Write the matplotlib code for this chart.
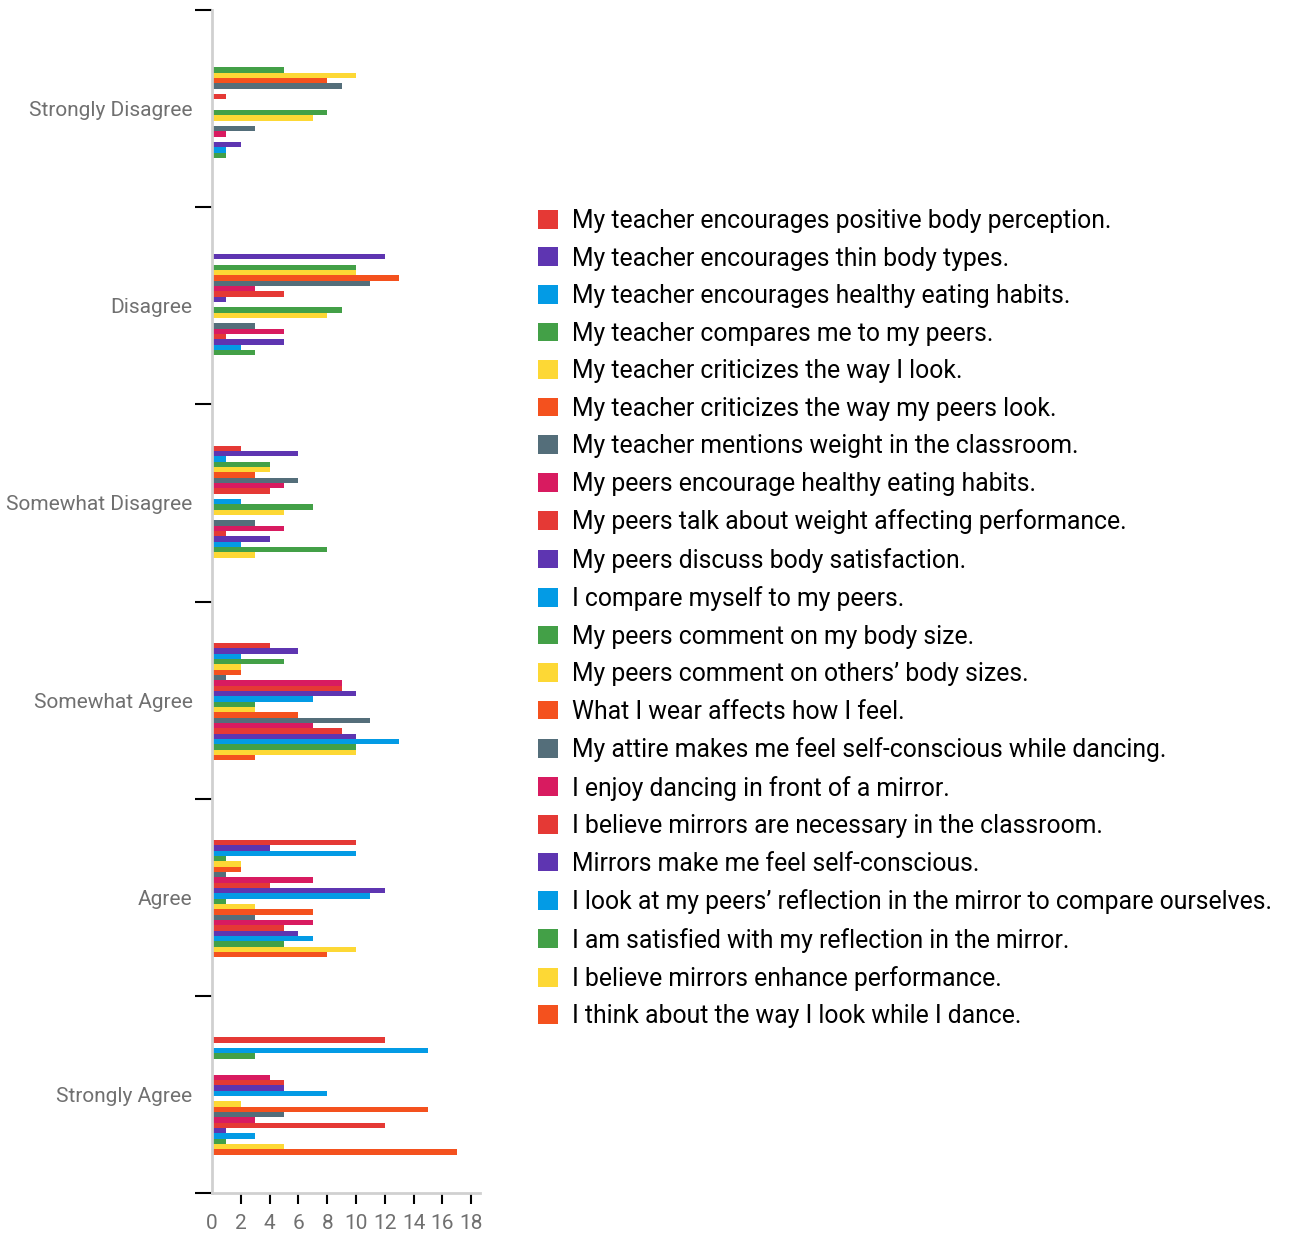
import matplotlib
matplotlib.use("Agg")
import matplotlib.pyplot as plt
from matplotlib.patches import Patch
import numpy as np

plt.rcParams['font.family'] = ['Roboto', 'DejaVu Sans']

categories = ["Strongly Disagree", "Disagree", "Somewhat Disagree",
              "Somewhat Agree", "Agree", "Strongly Agree"]

series_names = [
    "My teacher encourages positive body perception.",
    "My teacher encourages thin body types.",
    "My teacher encourages healthy eating habits.",
    "My teacher compares me to my peers.",
    "My teacher criticizes the way I look.",
    "My teacher criticizes the way my peers look.",
    "My teacher mentions weight in the classroom.",
    "My peers encourage healthy eating habits.",
    "My peers talk about weight affecting performance.",
    "My peers discuss body satisfaction.",
    "I compare myself to my peers.",
    "My peers comment on my body size.",
    "My peers comment on others\u2019 body sizes.",
    "What I wear affects how I feel.",
    "My attire makes me feel self-conscious while dancing.",
    "I enjoy dancing in front of a mirror.",
    "I believe mirrors are necessary in the classroom.",
    "Mirrors make me feel self-conscious.",
    "I look at my peers\u2019 reflection in the mirror to compare ourselves.",
    "I am satisfied with my reflection in the mirror.",
    "I believe mirrors enhance performance.",
    "I think about the way I look while I dance.",
]

# values per category, one entry per series (in series order)
strongly_disagree = [0, 0, 0, 5, 10, 8, 9, 0, 1, 0, 0, 8, 7, 0, 3, 1, 0, 2, 1, 1, 0, 0]
disagree          = [0, 12, 0, 10, 10, 13, 11, 3, 5, 1, 0, 9, 8, 0, 3, 5, 1, 5, 2, 3, 0, 0]
somewhat_disagree = [2, 6, 1, 4, 4, 3, 6, 5, 4, 0, 2, 7, 5, 0, 3, 5, 1, 4, 2, 8, 3, 0]
somewhat_agree    = [4, 6, 2, 5, 2, 2, 1, 9, 9, 10, 7, 3, 3, 6, 11, 7, 9, 10, 13, 10, 10, 3]
agree             = [10, 4, 10, 1, 2, 2, 1, 7, 4, 12, 11, 1, 3, 7, 3, 7, 5, 6, 7, 5, 10, 8]
strongly_agree    = [12, 0, 15, 3, 0, 0, 0, 4, 5, 5, 8, 0, 2, 15, 5, 3, 12, 1, 3, 1, 5, 17]

x_ticks = [0, 2, 4, 6, 8, 10, 12, 14, 16, 18]

palette = ["#E53935", "#5E35B1", "#039BE5", "#43A047",
           "#FDD835", "#F4511E", "#546E7A", "#D81B60"]

values = np.array([strongly_disagree, disagree, somewhat_disagree,
                   somewhat_agree, agree, strongly_agree])  # (6, 22)

fig = plt.figure(figsize=(12.94, 12.35), dpi=100)
ax = fig.add_axes([212 / 1294, 1 - 1193 / 1235, 268 / 1294, 1183 / 1235])

n = len(series_names)
first = 0.2234
step = 0.02706
cat_idx = np.arange(len(categories))
colors = [palette[i % len(palette)] for i in range(n)]
for i in range(n):
    ax.barh(cat_idx + first + i * step, values[:, i], height=step,
            color=colors[i], align='center')

ax.set_ylim(len(categories), 0)
ax.set_xlim(0, 268 / 14.4)

# y ticks: boundaries (major, unlabeled), centers (minor, labeled)
ax.set_yticks(np.arange(len(categories) + 1))
ax.set_yticklabels([])
ax.set_yticks(cat_idx + 0.5, minor=True)
ax.set_yticklabels(categories, minor=True, fontsize=15, color="#707070")
ax.tick_params(axis='y', which='major', length=12, width=1.5, color='black')
ax.tick_params(axis='y', which='minor', length=0, pad=14)

ax.set_xticks(x_ticks)
ax.set_xticklabels([str(t) for t in x_ticks], fontsize=15, color="#707070")
ax.tick_params(axis='x', which='major', length=8, width=1.5, color='black', pad=7)
ax.xaxis.get_major_ticks()[0].tick1line.set_visible(False)

for s in ['top', 'right']:
    ax.spines[s].set_visible(False)
for s in ['left', 'bottom']:
    ax.spines[s].set_color('#d0d0d0')
    ax.spines[s].set_linewidth(2)

handles = [Patch(facecolor=colors[i], edgecolor='none') for i in range(n)]
fig.legend(handles, series_names, loc='upper left',
           bbox_to_anchor=(538 / 1294, 1 - 209 / 1235),
           frameon=False, fontsize=17.8, handlelength=0.8, handleheight=0.8,
           handletextpad=0.56, labelspacing=0.547, borderaxespad=0, borderpad=0)

fig.savefig("out.png", dpi=100)
